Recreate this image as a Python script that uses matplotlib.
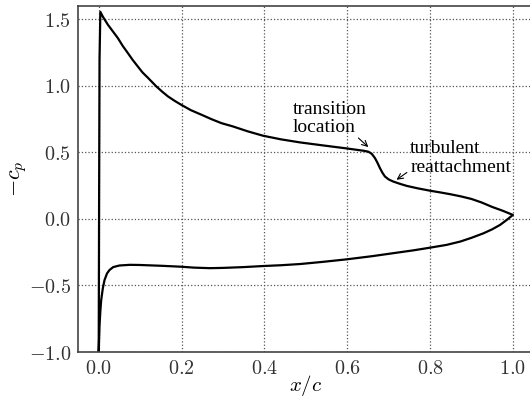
import matplotlib
matplotlib.use("Agg")
import matplotlib.pyplot as plt

plt.rcParams['mathtext.fontset'] = 'cm'

# Upper surface (suction side), leading edge -> trailing edge
upper_x = [0.0, 0.001, 0.002, 0.004, 0.010, 0.022, 0.034, 0.046, 0.058, 0.070, 0.082,
           0.094, 0.106, 0.119, 0.139, 0.153, 0.167, 0.183, 0.199, 0.222, 0.248,
           0.272, 0.296, 0.324, 0.360, 0.397, 0.440, 0.486, 0.540, 0.598, 0.640,
           0.651, 0.659, 0.667, 0.673, 0.679, 0.685, 0.691, 0.700, 0.711, 0.727,
           0.744, 0.770, 0.80, 0.825, 0.85, 0.875, 0.90, 0.925, 0.95, 0.975, 1.0]
upper_cp = [-1.0, 0.2, 1.2, 1.556, 1.52, 1.46, 1.41, 1.36, 1.30, 1.248, 1.195,
            1.147, 1.10, 1.06, 0.996, 0.957, 0.921, 0.888, 0.858, 0.818, 0.783,
            0.750, 0.72, 0.695, 0.658, 0.625, 0.598, 0.575, 0.553, 0.53, 0.512,
            0.505, 0.49, 0.457, 0.422, 0.382, 0.347, 0.319, 0.297, 0.281, 0.264,
            0.248, 0.230, 0.212, 0.199, 0.185, 0.169, 0.15, 0.123, 0.09, 0.062, 0.03]

# Lower surface (pressure side), trailing edge -> leading edge
lower_x = [1.0, 0.985, 0.969, 0.950, 0.929, 0.900, 0.873, 0.840, 0.80, 0.760, 0.719,
           0.660, 0.598, 0.540, 0.486, 0.440, 0.397, 0.350, 0.300, 0.268, 0.230,
           0.198, 0.150, 0.098, 0.075, 0.05, 0.035, 0.026, 0.020, 0.014, 0.010,
           0.006, 0.004, 0.002, 0.0]
lower_cp = [0.03, -0.008, -0.045, -0.078, -0.108, -0.142, -0.17, -0.195, -0.216, -0.236, -0.254,
            -0.280, -0.304, -0.323, -0.339, -0.348, -0.354, -0.362, -0.368, -0.370, -0.366,
            -0.359, -0.352, -0.346, -0.345, -0.35, -0.362, -0.384, -0.410, -0.46, -0.52,
            -0.61, -0.69, -0.80, -1.0]

xticks = [0.0, 0.2, 0.4, 0.6, 0.8, 1.0]
xtick_labels = ['$0.0$', '$0.2$', '$0.4$', '$0.6$', '$0.8$', '$1.0$']
yticks = [-1.0, -0.5, 0.0, 0.5, 1.0, 1.5]
ytick_labels = ['$-1.0$', '$-0.5$', '$0.0$', '$0.5$', '$1.0$', '$1.5$']

fig = plt.figure(figsize=(5.3, 3.98), dpi=100)
ax = fig.add_axes([78/530, 46/398, 455.6/530, 346/398])

ax.plot(upper_x + lower_x, upper_cp + lower_cp, color='black', lw=1.6)

ax.set_xlim(-0.05, 1.05)
ax.set_ylim(-1.0, 1.6)
ax.set_xticks(xticks)
ax.set_xticklabels(xtick_labels)
ax.set_yticks(yticks)
ax.set_yticklabels(ytick_labels)
ax.tick_params(length=0, pad=5, labelsize=14.5, colors='#333333')
ax.grid(True, linestyle=':', color='#555555', lw=0.9)
for s in ax.spines.values():
    s.set_color('#444444')
    s.set_linewidth(1.2)

ax.set_xlabel('$x/c$', fontsize=15)
ax.xaxis.set_label_coords(0.5, -0.062)
ax.set_ylabel('$-c_p$', fontsize=16)
ax.yaxis.set_label_coords(-0.108, 0.5)

serif = ['Liberation Serif', 'DejaVu Serif']
ax.text(0.469, 0.752, 'transition\nlocation', fontsize=14, family=serif,
        ha='left', va='center', linespacing=1.1)
ax.text(0.752, 0.457, 'turbulent\nreattachment', fontsize=14, family=serif,
        ha='left', va='center', linespacing=1.1)
ax.annotate('', xy=(0.651, 0.54), xytext=(0.627, 0.608),
            arrowprops=dict(arrowstyle='->', lw=0.8, color='black', shrinkA=0, shrinkB=0))
ax.annotate('', xy=(0.719, 0.294), xytext=(0.744, 0.349),
            arrowprops=dict(arrowstyle='->', lw=0.8, color='black', shrinkA=0, shrinkB=0))

fig.savefig('out.png', dpi=100)
